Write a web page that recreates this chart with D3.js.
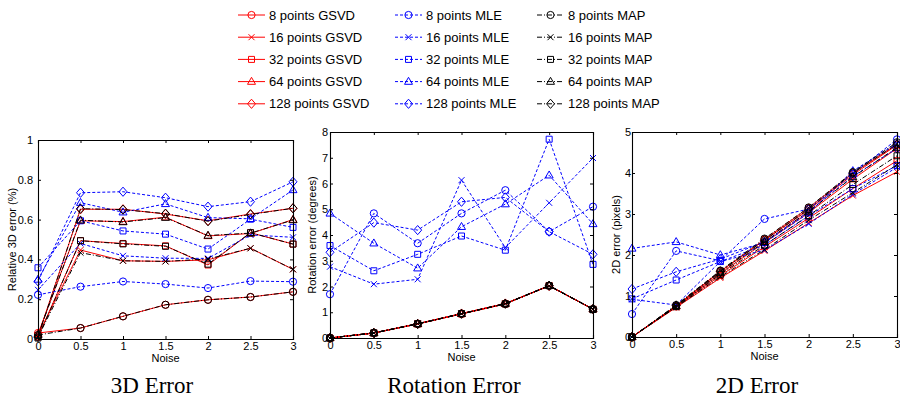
<!DOCTYPE html>
<html>
<head>
<meta charset="utf-8">
<script src="https://cdn.jsdelivr.net/npm/d3@7"></script>
<style>
  body { margin: 0; background: #fff; }
  svg { display: block; }
  text { font-family: "Liberation Sans", Arial, sans-serif; fill: #000; }
</style>
</head>
<body>
<script>
// x values shared by all panels
const noise = [0, 0.5, 1, 1.5, 2, 2.5, 3];
const pointCounts = [8, 16, 32, 64, 128];
const methods = ['GSVD', 'MLE', 'MAP'];

// 3D error (relative, %)
const gsvd3d = [
  [0.03, 0.055, 0.114, 0.172, 0.197, 0.211, 0.237],
  [0.02, 0.447, 0.393, 0.39, 0.398, 0.456, 0.35],
  [0.01, 0.494, 0.48, 0.468, 0.372, 0.534, 0.477],
  [0.025, 0.594, 0.59, 0.612, 0.518, 0.53, 0.6],
  [0.015, 0.652, 0.652, 0.628, 0.594, 0.628, 0.657]
];
const mle3d = [
  [0.222, 0.263, 0.289, 0.276, 0.256, 0.291, 0.288],
  [0.247, 0.48, 0.418, 0.406, 0.405, 0.523, 0.511],
  [0.358, 0.594, 0.543, 0.527, 0.452, 0.602, 0.561],
  [0.299, 0.685, 0.637, 0.679, 0.61, 0.604, 0.749],
  [0.29, 0.735, 0.74, 0.71, 0.665, 0.69, 0.79]
];
const map3d = [
  [0.02, 0.055, 0.114, 0.172, 0.197, 0.211, 0.237],
  [0.01, 0.434, 0.393, 0.39, 0.402, 0.456, 0.35],
  [0.005, 0.494, 0.478, 0.466, 0.376, 0.534, 0.477],
  [0.02, 0.597, 0.588, 0.61, 0.52, 0.532, 0.598],
  [0.01, 0.655, 0.65, 0.63, 0.592, 0.626, 0.657]
];

// rotation error (degrees)
const gsvdRot = [
  [0, 0.19, 0.55, 0.94, 1.33, 2.03, 1.12],
  [0, 0.2, 0.56, 0.95, 1.34, 2.02, 1.13],
  [0, 0.19, 0.55, 0.93, 1.32, 2.04, 1.11],
  [0, 0.2, 0.54, 0.94, 1.33, 2.03, 1.12],
  [0, 0.19, 0.55, 0.95, 1.34, 2.02, 1.12]
];
const mleRot = [
  [1.7, 4.84, 3.68, 4.84, 5.74, 4.13, 5.1],
  [2.77, 2.09, 2.28, 6.13, 3.51, 5.25, 6.99],
  [3.59, 2.61, 3.25, 3.96, 3.41, 7.72, 2.86],
  [4.84, 3.68, 2.71, 4.32, 5.2, 6.32, 4.43],
  [3.33, 4.48, 4.19, 5.29, 5.46, 4.13, 3.25]
];
const mapRot = [
  [0, 0.2, 0.55, 0.94, 1.33, 2.03, 1.12],
  [0, 0.19, 0.56, 0.94, 1.33, 2.02, 1.12],
  [0, 0.2, 0.55, 0.95, 1.32, 2.03, 1.11],
  [0, 0.19, 0.55, 0.94, 1.34, 2.04, 1.12],
  [0, 0.2, 0.54, 0.94, 1.33, 2.03, 1.13]
];

// 2D error (pixels)
const gsvd2d = [
  [0, 0.76, 1.6, 2.38, 3.15, 4.0, 4.7],
  [0, 0.72, 1.44, 2.1, 2.78, 3.45, 4.03],
  [0, 0.74, 1.5, 2.2, 2.9, 3.62, 4.3],
  [0, 0.75, 1.55, 2.3, 3.03, 3.85, 4.6],
  [0, 0.76, 1.6, 2.36, 3.1, 3.96, 4.68]
];
const mle2d = [
  [0.56, 2.1, 1.86, 2.88, 3.12, 3.98, 4.82],
  [0.92, 0.78, 1.84, 2.12, 2.76, 3.48, 4.14],
  [0.93, 1.39, 1.84, 2.24, 2.95, 3.62, 4.18],
  [2.16, 2.32, 2.0, 2.3, 3.02, 4.05, 4.72],
  [1.17, 1.59, 1.9, 2.32, 3.06, 3.92, 4.6]
];
const map2d = [
  [0, 0.78, 1.62, 2.4, 3.16, 4.02, 4.75],
  [0, 0.73, 1.47, 2.13, 2.85, 3.52, 4.2],
  [0, 0.74, 1.53, 2.24, 2.96, 3.72, 4.42],
  [0, 0.76, 1.57, 2.32, 3.06, 3.9, 4.62],
  [0, 0.77, 1.6, 2.36, 3.12, 4.0, 4.7]
];

const yTicks3d = [0, 0.2, 0.4, 0.6, 0.8, 1];
const yTicksRot = [0, 1, 2, 3, 4, 5, 6, 7, 8];
const yTicks2d = [0, 1, 2, 3, 4, 5];

// styles per method
const styles = {
  GSVD: { color: '#ff0000', dash: null },
  MLE: { color: '#0000ff', dash: '3,2' },
  MAP: { color: '#000000', dash: '5,2,1,2' }
};

// marker shapes per point count
const markers = [
  'M3.6,0A3.6,3.6,0,1,1,-3.6,0A3.6,3.6,0,1,1,3.6,0Z',
  'M-3,-3L3,3M-3,3L3,-3',
  'M-3,-3L3,-3L3,3L-3,3Z',
  'M0,-4.3L4,2.7L-4,2.7Z',
  'M0,-4.6L4,0L0,4.6L-4,0Z'
];

const svg = d3.select('body').append('svg')
  .attr('width', 900)
  .attr('height', 398);

// legend
const legendCols = [238, 395, 537];
pointCounts.forEach((n, i) => {
  methods.forEach((m, j) => {
    const y = 15 + i * 22.2;
    const x0 = legendCols[j];
    const g = svg.append('g');
    g.append('line')
      .attr('x1', x0).attr('x2', x0 + 27)
      .attr('y1', y).attr('y2', y)
      .attr('stroke', styles[m].color)
      .attr('stroke-dasharray', styles[m].dash);
    g.append('path')
      .attr('d', markers[i])
      .attr('transform', `translate(${x0 + 13.5},${y})`)
      .attr('fill', 'none')
      .attr('stroke', styles[m].color);
    g.append('text')
      .attr('x', x0 + 31).attr('y', y + 4.5)
      .style('font-size', '13px')
      .text(`${n} points ${m}`);
  });
});

function panel(box, ymax, yTicks, yPad, ylabel, labelX, title, titleX, sets) {
  const x = d3.scaleLinear().domain([0, 3]).range([box.left, box.right]);
  const y = d3.scaleLinear().domain([0, ymax]).range([box.bottom, box.top]);
  const g = svg.append('g');

  const line = d3.line()
    .x((d, i) => x(noise[i]))
    .y(d => y(d));

  // series: GSVD, MLE, MAP
  sets.forEach(([m, data]) => {
    data.forEach((vals, i) => {
      g.append('path')
        .attr('d', line(vals))
        .attr('fill', 'none')
        .attr('stroke', styles[m].color)
        .attr('stroke-width', 1)
        .attr('stroke-dasharray', styles[m].dash);
      g.selectAll(null)
        .data(vals)
        .enter().append('path')
        .attr('d', markers[i])
        .attr('transform', (d, k) => `translate(${x(noise[k])},${y(d)})`)
        .attr('fill', 'none')
        .attr('stroke', styles[m].color)
        .attr('stroke-width', 1);
    });
  });

  // box frame with inside ticks on all sides
  g.append('g').attr('transform', `translate(0,${box.bottom})`)
    .call(d3.axisBottom(x).tickValues(noise).tickSize(-3).tickPadding(3)
      .tickFormat(d3.format('')));
  g.append('g').attr('transform', `translate(0,${box.top})`)
    .call(d3.axisTop(x).tickValues(noise).tickSize(-3).tickFormat(''));
  g.append('g').attr('transform', `translate(${box.left},0)`)
    .call(d3.axisLeft(y).tickValues(yTicks).tickSize(-3).tickPadding(yPad)
      .tickFormat(d3.format('')));
  g.append('g').attr('transform', `translate(${box.right},0)`)
    .call(d3.axisRight(y).tickValues(yTicks).tickSize(-3).tickFormat(''));
  g.selectAll('.domain').attr('stroke', '#000').attr('stroke-width', 1.1);
  g.selectAll('.tick line').attr('stroke', '#000');
  g.selectAll('.tick text')
    .style('font-family', '"Liberation Sans", Arial, sans-serif')
    .style('font-size', '11px')
    .attr('fill', '#000');

  g.append('text')
    .attr('x', (box.left + box.right) / 2)
    .attr('y', box.bottom + 23)
    .attr('text-anchor', 'middle')
    .style('font-size', '11px')
    .text('Noise');

  g.append('text')
    .attr('transform', `translate(${labelX},${(box.top + box.bottom) / 2}) rotate(-90)`)
    .attr('text-anchor', 'middle')
    .style('font-size', '11px')
    .text(ylabel);

  g.append('text')
    .attr('x', titleX)
    .attr('y', 393)
    .attr('text-anchor', 'middle')
    .style('font-family', '"Liberation Serif", "Times New Roman", serif')
    .style('font-size', '23px')
    .text(title);
}

panel({ left: 38, right: 293, top: 140, bottom: 339 }, 1, yTicks3d, 5,
  'Relative 3D error (%)', 16, '3D Error', 152,
  [['GSVD', gsvd3d], ['MLE', mle3d], ['MAP', map3d]]);
panel({ left: 330, right: 593, top: 132, bottom: 338 }, 8, yTicksRot, 2,
  'Rotation error (degrees)', 316, 'Rotation Error', 454,
  [['GSVD', gsvdRot], ['MLE', mleRot], ['MAP', mapRot]]);
panel({ left: 632, right: 897, top: 132, bottom: 337 }, 5, yTicks2d, 1,
  '2D error (pixels)', 620, '2D Error', 757,
  [['GSVD', gsvd2d], ['MLE', mle2d], ['MAP', map2d]]);
</script>
</body>
</html>
